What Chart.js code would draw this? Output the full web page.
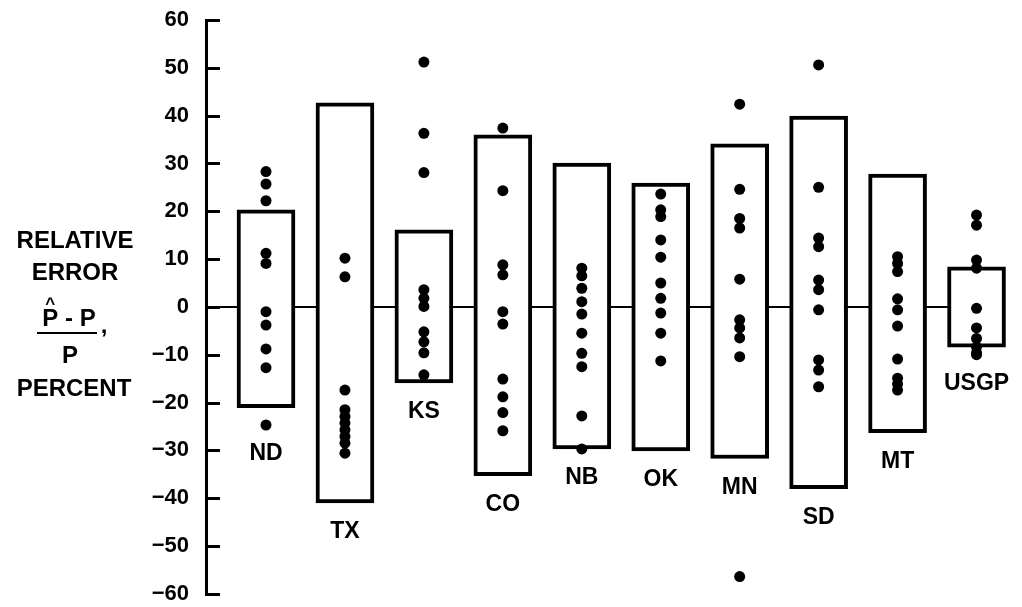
<!DOCTYPE html>
<html>
<head>
<meta charset="utf-8">
<script src="https://cdn.jsdelivr.net/npm/chart.js@4.4.0/dist/chart.umd.min.js"></script>
<style>
html, body { margin: 0; padding: 0; background: #fff; }
#wrap { width: 1022px; height: 607px; position: relative; }
</style>
</head>
<body>
<div id="wrap"><canvas id="errChart"></canvas></div>
<script>
// relative error of price estimates by state, percent

const states = ['ND', 'TX', 'KS', 'CO', 'NB', 'OK', 'MN', 'SD', 'MT', 'USGP'];

// box = range for each state
const boxLow  = [-21.1, -41.0, -15.9, -35.3, -29.7, -30.1, -31.7, -38.0, -26.3, -8.4];
const boxHigh = [ 20.3,  42.7,  16.1,  36.0,  30.1,  25.9,  34.1,  39.9,  27.8,  8.4];

// individual errors (dots)
const errND   = [28.3, 25.7, 22.2, 11.2, 9.1, -1.0, -3.8, -8.8, -12.7, -24.7];
const errTX   = [10.2, 6.3, -17.4, -21.5, -22.9, -24.3, -25.7, -27.1, -28.5, -30.6];
const errKS   = [51.2, 36.3, 28.1, 3.6, 1.8, 0.1, -5.2, -7.3, -9.6, -14.2];
const errCO   = [37.4, 24.3, 8.8, 6.7, -1.0, -3.6, -15.1, -18.8, -22.1, -25.9];
const errNB   = [8.1, 6.5, 3.9, 1.1, -1.5, -5.5, -9.7, -12.5, -22.8, -29.7];
const errOK   = [23.6, 20.3, 18.9, 14.0, 10.4, 5.0, 1.8, -1.3, -5.5, -11.3];
const errMN   = [42.4, 24.6, 18.5, 16.5, 5.8, -2.7, -4.4, -6.5, -10.4, -56.4];
const errSD   = [50.6, 25.0, 14.4, 12.6, 5.6, 3.6, -0.6, -11.1, -13.2, -16.7];
const errMT   = [10.5, 9.1, 7.4, 1.7, -0.6, -4.0, -10.9, -14.9, -16.1, -17.4];
const errUSGP = [19.2, 17.1, 9.8, 8.1, -0.3, -4.4, -6.6, -8.4, -9.6, -10.0];
const stateErrors = [errND, errTX, errKS, errCO, errNB, errOK, errMN, errSD, errMT, errUSGP];

const yMin = -60, yMax = 60, yStep = 10;
const xMin = -0.76, xMax = 9.5;

const FONT = "'Liberation Sans', Arial, Helvetica, sans-serif";

const dots = [];
stateErrors.forEach((arr, i) => arr.forEach(v => dots.push({ x: i, y: v })));

const decor = {
    id: 'decor',
    afterDraw(chart) {
        const ctx = chart.ctx;
        const xs = chart.scales.x, ys = chart.scales.y;
        const area = chart.chartArea;
        ctx.save();
        ctx.strokeStyle = '#000';
        ctx.fillStyle = '#000';

        // inward tick marks
        ctx.lineWidth = 3;
        ys.ticks.forEach(t => {
            const py = Math.round(ys.getPixelForValue(t.value)) + 0.5;
            ctx.beginPath();
            ctx.moveTo(area.left - 1, py);
            ctx.lineTo(area.left + 14, py);
            ctx.stroke();
        });

        // state labels under boxes
        ctx.font = 'bold 23px ' + FONT;
        ctx.textAlign = 'center';
        ctx.textBaseline = 'middle';
        states.forEach((s, i) => {
            let low = boxLow[i];
            stateErrors[i].forEach(v => { if (v < low && v > low - 8) low = v; });
            ctx.fillText(s, xs.getPixelForValue(i), ys.getPixelForValue(low) + 29);
        });

        // y axis title
        const cx = 75;
        ctx.font = 'bold 24px ' + FONT;
        ctx.fillText('RELATIVE', cx, 241);
        ctx.fillText('ERROR', cx, 273);
        const num = 'P - P';
        const nw = ctx.measureText(num).width;
        ctx.fillText(num, 69, 319);
        const pw = ctx.measureText('P').width;
        ctx.font = 'bold 17px ' + FONT;
        ctx.textBaseline = 'alphabetic';
        ctx.fillText('^', 69 - nw / 2 + pw / 2, 309);
        ctx.font = 'bold 24px ' + FONT;
        ctx.textBaseline = 'middle';
        ctx.fillText(',', 104, 326);
        ctx.lineWidth = 2;
        ctx.beginPath();
        ctx.moveTo(37, 333);
        ctx.lineTo(97, 333);
        ctx.stroke();
        ctx.fillText('P', 70, 356);
        ctx.fillText('PERCENT', 74, 389);
        ctx.restore();
    }
};

new Chart(document.getElementById('errChart'), {
    type: 'bar',
    data: {
        datasets: [
            {
                type: 'line',
                data: [{ x: xMin, y: 0 }, { x: states.length - 1, y: 0 }],
                borderColor: '#000',
                borderWidth: 2,
                pointRadius: 0,
                order: 3
            },
            {
                type: 'bar',
                data: states.map((s, i) => ({ x: i, y: [boxLow[i], boxHigh[i]] })),
                backgroundColor: '#fff',
                borderColor: '#000',
                borderWidth: 4,
                borderSkipped: false,
                barThickness: 58,
                order: 2
            },
            {
                type: 'scatter',
                data: dots,
                backgroundColor: '#000',
                borderWidth: 0,
                pointRadius: 5.5,
                order: 1
            }
        ]
    },
    options: {
        responsive: true,
        maintainAspectRatio: false,
        animation: false,
        devicePixelRatio: 1,
        layout: { padding: { left: 0, right: 6, top: 20, bottom: 13 } },
        plugins: { legend: { display: false }, tooltip: { enabled: false } },
        scales: {
            x: { type: 'linear', display: false, offset: false, min: xMin, max: xMax },
            y: {
                min: yMin, max: yMax,
                grid: { display: false, drawTicks: true, tickLength: 17 },
                border: { display: true, color: '#000', width: 3 },
                ticks: {
                    stepSize: yStep,
                    color: '#000',
                    padding: 0,
                    font: { family: FONT, size: 22, weight: 'bold' },
                    callback: v => v < 0 ? '\u2212' + Math.abs(v) : String(v)
                },
                afterFit(scale) { scale.width = 206; }
            }
        }
    },
    plugins: [decor]
});
</script>
</body>
</html>
